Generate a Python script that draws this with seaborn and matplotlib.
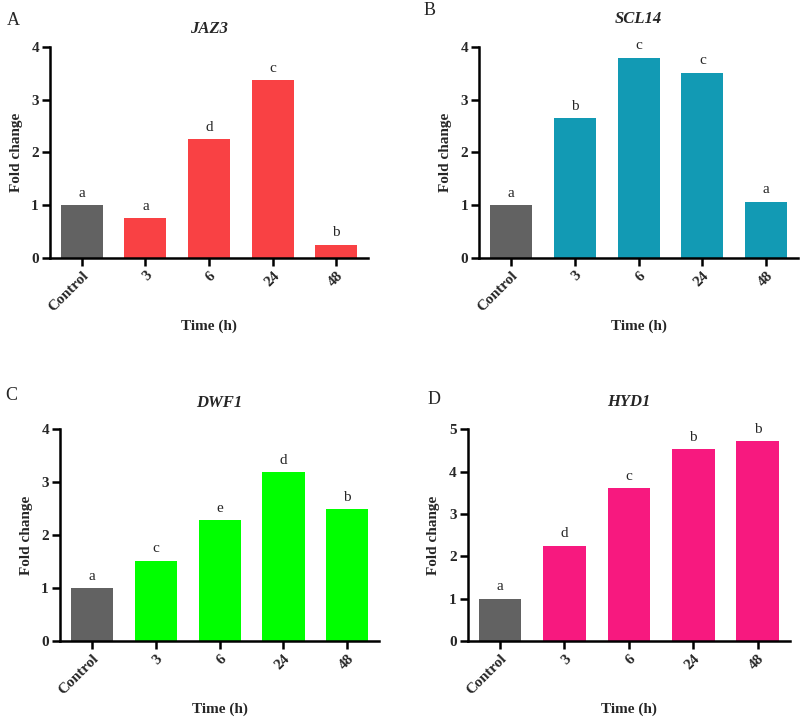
import matplotlib
matplotlib.use("Agg")
import matplotlib.pyplot as plt
import seaborn as sns
import pandas as pd

sns.set_theme(style="ticks")
plt.rcParams['font.family'] = ['Liberation Serif', 'DejaVu Serif']

categories = ["Control", "3", "6", "24", "48"]

jaz3_values = [1.0, 0.75, 2.25, 3.37, 0.25]
jaz3_letters = ["a", "a", "d", "c", "b"]

scl14_values = [1.0, 2.65, 3.80, 3.51, 1.07]
scl14_letters = ["a", "b", "c", "c", "a"]

dwf1_values = [1.0, 1.52, 2.28, 3.19, 2.49]
dwf1_letters = ["a", "c", "e", "d", "b"]

hyd1_values = [1.0, 2.25, 3.61, 4.53, 4.72]
hyd1_letters = ["a", "d", "c", "b", "b"]

gray = "#626262"
panels = [
    dict(tag="A", gene="JAZ3", vals=jaz3_values, letters=jaz3_letters, color="#F94144",
         rect=[0.0625, 0.6417, 0.3975, 0.293], ymax=4, yticks=[0, 1, 2, 3, 4],
         tagpos=(0.008, 0.984), tpad=10),
    dict(tag="B", gene="SCL14", vals=scl14_values, letters=scl14_letters, color="#129AB4",
         rect=[0.599, 0.6417, 0.3985, 0.293], ymax=4, yticks=[0, 1, 2, 3, 4],
         tagpos=(0.530, 0.997), tpad=17),
    dict(tag="C", gene="DWF1", vals=dwf1_values, letters=dwf1_letters, color="#00FF00",
         rect=[0.075, 0.1097, 0.399, 0.294], ymax=4, yticks=[0, 1, 2, 3, 4],
         tagpos=(0.006, 0.462), tpad=16),
    dict(tag="D", gene="HYD1", vals=hyd1_values, letters=hyd1_letters, color="#F7197F",
         rect=[0.5846, 0.1097, 0.4029, 0.294], ymax=5, yticks=[0, 1, 2, 3, 4, 5],
         tagpos=(0.534, 0.457), tpad=17),
]

fig = plt.figure(figsize=(8, 7.2), dpi=100)

for p in panels:
    ax = fig.add_axes(p["rect"])
    df = pd.DataFrame({"Time": categories, "Fold": p["vals"]})
    sns.barplot(data=df, x="Time", y="Fold", hue="Time", order=categories,
                hue_order=categories,
                palette=[gray] + [p["color"]] * 4, legend=False, width=0.66,
                saturation=1, ax=ax, edgecolor="none")
    ax.set_xlim(-0.5, 4.5)
    ax.set_ylim(0, p["ymax"])
    ax.set_yticks(p["yticks"])
    ax.set_yticklabels([str(t) for t in p["yticks"]], fontsize=11, fontweight="bold")
    ax.set_xticks(range(len(categories)))
    ax.set_xticklabels(categories, rotation=45, ha="right", rotation_mode="anchor",
                       fontsize=11, fontweight="bold")
    sns.despine(ax=ax)
    for s in ["left", "bottom"]:
        ax.spines[s].set_linewidth(1.8)
        ax.spines[s].set_color("black")
    ax.tick_params(axis="both", direction="out", length=6, width=1.8, color="black",
                   pad=2)
    ax.set_ylabel("Fold change", fontsize=11, fontweight="bold", labelpad=6)
    ax.set_xlabel("Time (h)", fontsize=11, fontweight="bold", labelpad=4)
    ax.set_title(p["gene"], fontsize=12, fontweight="bold", style="italic", pad=p["tpad"])
    for i, (v, l) in enumerate(zip(p["vals"], p["letters"])):
        ax.annotate(l, (i, v), xytext=(0, 4), textcoords="offset points",
                    ha="center", va="bottom", fontsize=11)
    fig.text(p["tagpos"][0], p["tagpos"][1], p["tag"], fontsize=13, ha="left", va="top")

fig.savefig("out.png", dpi=100)
